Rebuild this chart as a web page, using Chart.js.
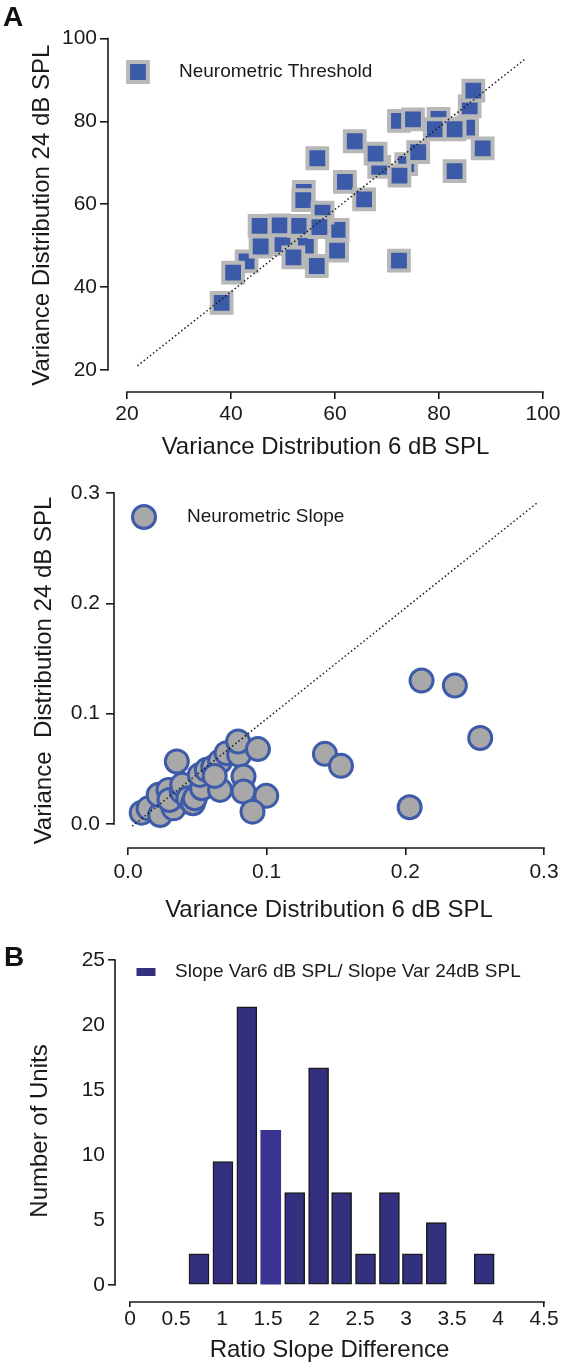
<!DOCTYPE html>
<html><head><meta charset="utf-8">
<script src="https://cdn.jsdelivr.net/npm/chart.js@4.4.0/dist/chart.umd.min.js"></script>
<style>
html,body{margin:0;padding:0;background:#fff;}
body{width:566px;height:1370px;position:relative;overflow:hidden;font-family:"Liberation Sans",Arial,sans-serif;}
canvas{position:absolute;left:0;}
.lab{position:absolute;font-weight:bold;font-size:28px;line-height:1;color:#111;}
</style></head><body>
<canvas id="cA" width="566" height="465" style="top:0;width:566px;height:465px"></canvas>
<canvas id="cM" width="566" height="465" style="top:465px;width:566px;height:465px"></canvas>
<canvas id="cB" width="566" height="440" style="top:930px;width:566px;height:440px"></canvas>
<div class="lab" style="left:3px;top:3px">A</div>
<div class="lab" style="left:4px;top:943px">B</div>
<script>
// ---------- Panel A: Neurometric Threshold ----------
const thrX6  = [79.9,72.3,85.9,85.4,68.5,73.7,54.0,60.5,49.9,54.4,43.0,
                86.6,75.0,79.2,83.0,88.4,83.0,63.8,67.8,76.0,72.4,56.6,61.9,65.6,53.9,57.6,57.0,53.0,49.3,45.5,45.7,52.0,56.5,60.4,40.4,38.2,72.3];
const thrY24 = [80.6,80.1,83.6,78.5,69.0,69.7,63.0,53.8,50.4,50.0,46.2,
                87.4,80.5,78.1,78.1,73.5,68.0,75.2,72.2,72.6,66.9,71.1,65.4,61.2,61.0,58.0,54.5,54.8,54.9,54.8,49.8,47.2,45.1,48.8,43.5,36.2,46.4];
const thrTicks = [20,40,60,80,100];
const thrLineX = [22,96.5];
const thrLineY = [21,95];

// ---------- Panel A (lower): Neurometric Slope ----------
const slopeX6  = [0.2117,0.2357,0.254,0.142,0.1536,0.2031,
                  0.0099,0.0148,0.0232,0.0329,0.0221,0.0292,0.0299,0.0388,0.0391,0.0435,0.0469,0.0482,0.0534,0.0664,
                  0.0518,0.0568,0.0615,0.0664,0.0711,0.0802,0.0794,0.0937,0.0352,0.0833,0.0833,0.0997,0.0898,0.0625];
const slopeY24 = [0.130,0.1255,0.078,0.0636,0.0527,0.0152,
                  0.0103,0.0142,0.0082,0.0142,0.0264,0.0309,0.0218,0.0294,0.0355,0.0233,0.0188,0.0233,0.0324,0.0309,
                  0.0445,0.0491,0.0515,0.0567,0.0642,0.0627,0.0748,0.0679,0.0567,0.0430,0.0294,0.0255,0.0112,0.0436];
const slopeTicks = [0,0.1,0.2,0.3];
const slopeLineX = [0.003,0.296];
const slopeLineY = [-0.002,0.292];

// ---------- Panel B: histogram ----------
const ratioBins = [0.75,1.01,1.27,1.53,1.79,2.05,2.30,2.56,2.82,3.07,3.33,3.85];
const unitCounts = [2.4,9.5,21.4,11.9,7.1,16.7,7.1,2.4,7.1,2.4,4.8,2.4];
const ratioTicks = [0,0.5,1,1.5,2,2.5,3,3.5,4,4.5];
const unitTicks = [0,5,10,15,20,25];

const FONT = '"Liberation Sans", Arial, sans-serif';
const INK = '#1a1a1a';
Chart.defaults.font.family = FONT;
Chart.defaults.color = INK;

const prismAxes = {
  id: 'prismAxes',
  afterDraw(chart, args, opts) {
    const ctx = chart.ctx, x = chart.scales.x, y = chart.scales.y, ca = chart.chartArea;
    ctx.save();
    ctx.strokeStyle = INK; ctx.lineWidth = 1.6;
    const yt = y.ticks, xt = x.ticks;
    ctx.beginPath();
    ctx.moveTo(ca.left, y.getPixelForValue(yt[0].value) + 0.8);
    ctx.lineTo(ca.left, y.getPixelForValue(yt[yt.length-1].value) - 0.8);
    ctx.moveTo(x.getPixelForValue(xt[0].value) - 0.8, ca.bottom);
    ctx.lineTo(x.getPixelForValue(xt[xt.length-1].value) + 0.8, ca.bottom);
    ctx.stroke();
    const L = opts.legend;
    if (L) {
      if (L.kind === 'rect') {
        ctx.fillStyle = '#3B5BA9'; ctx.strokeStyle = '#B8B8B8'; ctx.lineWidth = 4;
        const s = 19.8;
        ctx.beginPath(); ctx.rect(L.mx - s/2, L.my - s/2, s, s); ctx.fill(); ctx.stroke();
      } else if (L.kind === 'circle') {
        ctx.fillStyle = '#A8A8A8'; ctx.strokeStyle = '#3E5BAA'; ctx.lineWidth = 3;
        ctx.beginPath(); ctx.arc(L.mx, L.my, 11.5, 0, Math.PI*2); ctx.fill(); ctx.stroke();
      } else {
        ctx.fillStyle = '#33307F';
        ctx.fillRect(L.mx - 9.5, L.my - 4, 19, 8);
      }
      ctx.fillStyle = INK; ctx.font = '19px ' + FONT;
      ctx.textBaseline = 'middle'; ctx.textAlign = 'left';
      ctx.fillText(L.text, L.tx, L.my);
    }
    ctx.restore();
  }
};

function axisOpts(c) {
  return {
    type: 'linear', min: c.min, max: c.max,
    afterBuildTicks: s => { s.ticks = c.ticks.map(v => ({value: v})); },
    afterFit: s => { if (c.w !== undefined) s.width = c.w; if (c.h !== undefined) s.height = c.h; },
    border: {display: false},
    grid: {drawOnChartArea: false, drawTicks: true, tickLength: c.tl, lineWidth: 1.6,
           color: INK, tickColor: c.tickColor || INK, offset: false},
    offset: false,
    ticks: {font: {size: 21}, color: INK, padding: c.pad, maxRotation: 0, autoSkip: false,
            callback: c.fmt || (v => String(v))},
    title: {display: true, text: c.title, font: {size: 24}, color: INK, padding: c.tpad}
  };
}

function baseOptions(c) {
  return {
    responsive: false, animation: false, devicePixelRatio: 1,
    layout: {padding: {left: 0, right: c.padR, top: c.padT, bottom: 0}},
    plugins: {legend: {display: false}, tooltip: {enabled: false}, prismAxes: {legend: c.legend}},
    scales: {x: axisOpts(c.x), y: axisOpts(c.y)}
  };
}

// Panel A
new Chart(document.getElementById('cA'), {
  type: 'scatter',
  data: {datasets: [
    {type: 'line', data: thrLineX.map((v, i) => ({x: v, y: thrLineY[i]})), borderColor: INK, borderWidth: 1.5,
     borderDash: [1.5, 2.5], pointRadius: 0, fill: false},
    {data: thrX6.map((v, i) => ({x: v, y: thrY24[i]})), pointStyle: 'rect', pointRadius: 14,
     backgroundColor: '#3B5BA9', borderColor: '#B8B8B8', borderWidth: 4}
  ]},
  options: baseOptions({
    padR: 23, padT: 38.5,
    legend: {kind: 'rect', mx: 138, my: 72, tx: 179, text: 'Neurometric Threshold'},
    x: {min: 16.346, max: 100, ticks: thrTicks, h: 73, tl: 7, pad: 3, title: 'Variance Distribution 6 dB SPL',
        tpad: {top: 0, bottom: 3.6}},
    y: {min: 14.69, max: 100, ticks: thrTicks, w: 108, tl: 8, pad: 3, title: 'Variance Distribution 24 dB SPL',
        tpad: {top: 27.6, bottom: 0}}
  }),
  plugins: [prismAxes]
});

// Panel A lower: slope
new Chart(document.getElementById('cM'), {
  type: 'scatter',
  data: {datasets: [
    {type: 'line', data: slopeLineX.map((v, i) => ({x: v, y: slopeLineY[i]})), borderColor: INK, borderWidth: 1.5,
     borderDash: [1.5, 2.5], pointRadius: 0, fill: false},
    {data: slopeX6.map((v, i) => ({x: v, y: slopeY24[i]})), pointStyle: 'circle', pointRadius: 11.5,
     backgroundColor: '#A8A8A8', borderColor: '#3E5BAA', borderWidth: 3}
  ]},
  options: baseOptions({
    padR: 22, padT: 28,
    legend: {kind: 'circle', mx: 144, my: 52, tx: 187, text: 'Neurometric Slope'},
    x: {min: -0.0101, max: 0.3, ticks: slopeTicks, h: 82, tl: 7, pad: 4.4, fmt: v => v.toFixed(1),
        title: 'Variance Distribution 6 dB SPL', tpad: {top: 0, bottom: 5.6}},
    y: {min: -0.02176, max: 0.3, ticks: slopeTicks, w: 114, tl: 8, pad: 6, fmt: v => v.toFixed(1),
        title: 'Variance  Distribution 24 dB SPL', tpad: {top: 29.6, bottom: 0}}
  }),
  plugins: [prismAxes]
});

// Panel B
const endTicks = n => (ctx => (ctx.index === 0 || ctx.index === n - 1) ? INK : 'rgba(0,0,0,0)');
new Chart(document.getElementById('cB'), {
  type: 'bar',
  data: {datasets: [{
    data: ratioBins.map((v, i) => ({x: v, y: unitCounts[i]})),
    backgroundColor: ratioBins.map((v, i) => i === 3 ? '#3A3592' : '#33307F'),
    borderColor: INK,
    borderWidth: ratioBins.map((v, i) => i === 3 ? 0 : 1.5),
    borderSkipped: false, barThickness: 20
  }]},
  options: baseOptions({
    padR: 22, padT: 30,
    legend: {kind: 'bar', mx: 146, my: 42, tx: 175, text: 'Slope Var6 dB SPL/ Slope Var 24dB SPL'},
    x: {min: -0.163, max: 4.5, ticks: ratioTicks, h: 68, tl: 5, pad: 0, tickColor: endTicks(ratioTicks.length),
        title: 'Ratio Slope Difference', tpad: {top: 0, bottom: 5.6}},
    y: {min: -1.3077, max: 25, ticks: unitTicks, w: 115, tl: 7, pad: 3, tickColor: endTicks(unitTicks.length),
        title: 'Number of Units', tpad: {top: 25.6, bottom: 0}}
  }),
  plugins: [prismAxes]
});
</script>
</body></html>
